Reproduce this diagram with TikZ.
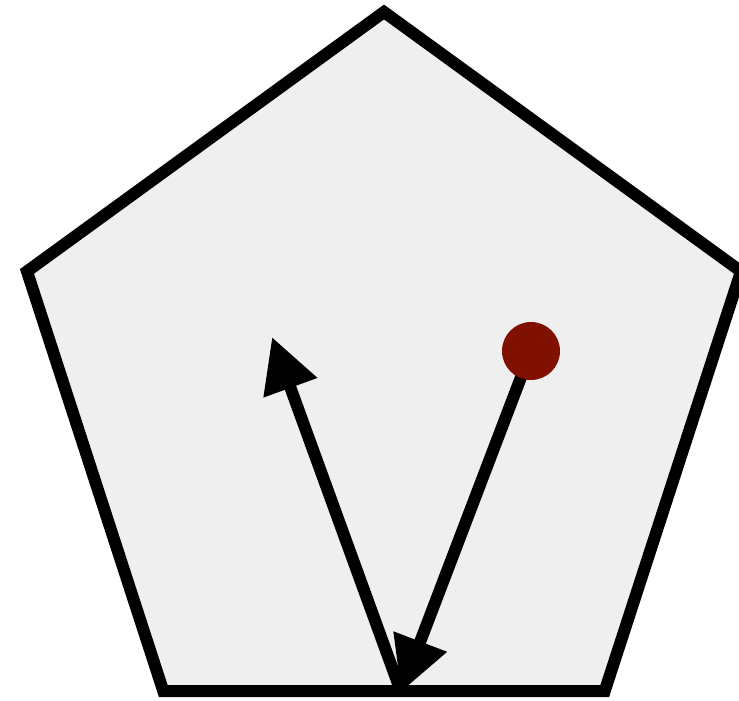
\documentclass[tikz,border=0pt]{standalone}
\usetikzlibrary{arrows.meta}
\definecolor{pentfill}{RGB}{239,239,239}
\definecolor{dotred}{RGB}{128,16,0}
\tikzset{
  pent/.style={draw=black, line width=12pt, fill=pentfill, line join=miter},
  vec/.style={draw=black, line width=12pt, -{Triangle[length=54pt,width=54pt]}},
  reddot/.style={circle, fill=dotred, inner sep=0pt, minimum size=58pt}
}
\begin{document}
\begin{tikzpicture}[x=1pt,y=-1pt]
\useasboundingbox (0,0) rectangle (739,701);
\coordinate (top) at (384,12);
\coordinate (ul) at (27,271.4);
\coordinate (ur) at (741,271.4);
\coordinate (br) at (604.7,691.1);
\coordinate (bl) at (163.3,691.1);
\draw[pent] (top) -- (ur) -- (br) -- (bl) -- (ul) -- cycle;
\coordinate (dotc) at (531,351);
\coordinate (hit) at (401,692);
\coordinate (out) at (272,337);
\draw[vec] (dotc) -- (hit);
\draw[vec] (hit) -- (out);
\node[reddot] (dot) at (dotc) {};
\end{tikzpicture}
\end{document}
